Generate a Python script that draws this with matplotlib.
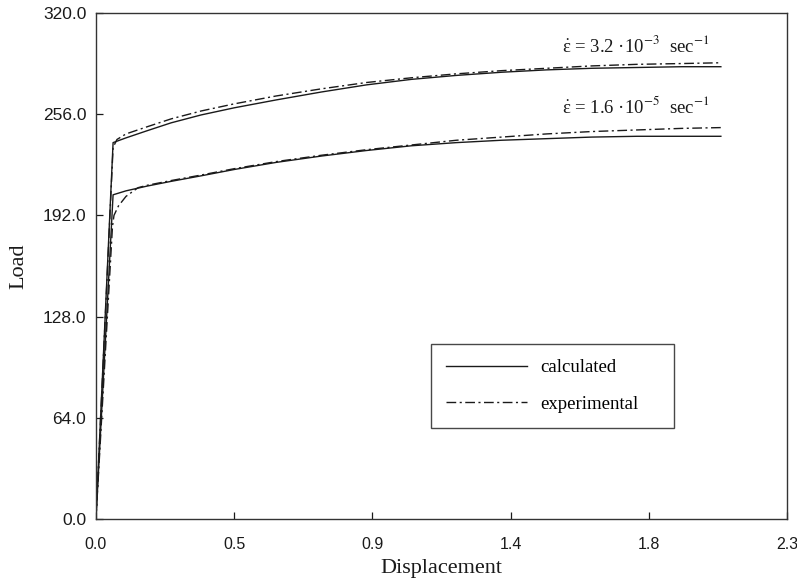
import matplotlib

matplotlib.use("Agg")
import matplotlib.pyplot as plt

# load-displacement curves at two strain rates
disp_fast_calc = [0.0, 0.057, 0.1, 0.17, 0.25, 0.35, 0.46, 0.6, 0.75, 0.9, 1.05, 1.2, 1.35,
                  1.5, 1.65, 1.8, 1.95, 2.08]
load_fast_calc = [0.0, 238.0, 241.0, 245.5, 250.5, 255.5, 260.0, 265.0, 270.0, 274.5, 278.0,
                  280.5, 282.5, 284.0, 285.0, 285.5, 286.0, 286.0]

disp_fast_exp = [0.0, 0.057, 0.07, 0.1, 0.17, 0.25, 0.35, 0.46, 0.6, 0.75, 0.9, 1.05, 1.2,
                 1.35, 1.5, 1.65, 1.8, 1.95, 2.08]
load_fast_exp = [0.0, 235.0, 240.0, 243.5, 248.0, 253.0, 258.0, 262.5, 267.5, 272.0, 276.0,
                 279.0, 281.5, 283.5, 285.0, 286.5, 287.5, 288.0, 288.5]

disp_slow_calc = [0.0, 0.057, 0.1, 0.17, 0.25, 0.35, 0.46, 0.6, 0.75, 0.9, 1.05, 1.2, 1.35,
                  1.5, 1.65, 1.8, 2.08]
load_slow_calc = [0.0, 205.0, 207.5, 210.5, 213.5, 217.0, 221.0, 225.5, 229.5, 233.0, 236.0,
                  238.0, 239.5, 240.5, 241.5, 242.0, 242.0]

disp_slow_exp = [0.0, 0.055, 0.06, 0.075, 0.1, 0.14, 0.17, 0.25, 0.35, 0.46, 0.6, 0.75, 0.9,
                 1.05, 1.2, 1.35, 1.5, 1.65, 1.8, 1.95, 2.08]
load_slow_exp = [0.0, 185.0, 192.0, 198.0, 204.0, 209.5, 211.0, 214.0, 217.5, 221.5, 226.0,
                 230.0, 233.5, 236.5, 239.5, 241.5, 243.5, 245.0, 246.0, 247.0, 247.5]

x_ticks = [0.0, 0.46, 0.92, 1.38, 1.84, 2.3]
y_ticks = [0.0, 64.0, 128.0, 192.0, 256.0, 320.0]

rate_labels = [
    r"$\dot{\mathregular{ε}}$ = 3.2 ·10$^{-3}$  sec$^{-1}$",
    r"$\dot{\mathregular{ε}}$ = 1.6 ·10$^{-5}$  sec$^{-1}$",
]
rate_label_pos = [(1.55, 295.0), (1.55, 257.0)]

plt.rcParams["mathtext.fontset"] = "stix"
serif = "Liberation Serif"
sans = "Liberation Sans"

ink = "#1a1a1a"
dashdot = (0, (7, 2.5, 1.5, 2.5))

fig = plt.figure(figsize=(7.97, 5.83), dpi=100)
ax = fig.add_axes([0.1204, 0.1098, 0.867, 0.868])

ax.plot(disp_fast_calc, load_fast_calc, color=ink, lw=1.0, label="calculated")
ax.plot(disp_fast_exp, load_fast_exp, color=ink, lw=1.0, linestyle=dashdot, label="experimental")
ax.plot(disp_slow_calc, load_slow_calc, color=ink, lw=1.0)
ax.plot(disp_slow_exp, load_slow_exp, color=ink, lw=1.0, linestyle=dashdot)

for text, (tx, ty) in zip(rate_labels, rate_label_pos):
    ax.text(tx, ty, text, fontsize=13.5, family=serif, color=ink, va="baseline")

ax.set_xlim(0, 2.3)
ax.set_ylim(0, 320)
ax.set_xticks(x_ticks)
ax.set_yticks(y_ticks)
ax.set_xticklabels([f"{v:.1f}" for v in x_ticks], family=sans, fontsize=11.5)
ax.set_yticklabels([f"{v:.1f}" for v in y_ticks], family=sans, fontsize=12.5)
ax.tick_params(direction="in", length=5, width=0.9, colors=ink)
ax.tick_params(axis="y", pad=7)
ax.tick_params(axis="x", pad=13)
for sp in ax.spines.values():
    sp.set_linewidth(1.0)
    sp.set_color("#333333")

ax.set_xlabel("Displacement", family=serif, fontsize=16, color=ink, labelpad=5)
ax.set_ylabel("Load", family=serif, fontsize=16, color=ink, labelpad=10)

leg = ax.legend(
    loc="lower left",
    bbox_to_anchor=(0.485, 0.18, 0.352, 0.166),
    mode="expand",
    borderaxespad=0,
    handlelength=4.3,
    handletextpad=0.7,
    labelspacing=1.05,
    borderpad=0.8,
    fancybox=False,
    prop={"family": serif, "size": 13.5},
)
leg.get_frame().set_edgecolor(ink)
leg.get_frame().set_linewidth(1.0)

fig.savefig("out.png", dpi=100)
